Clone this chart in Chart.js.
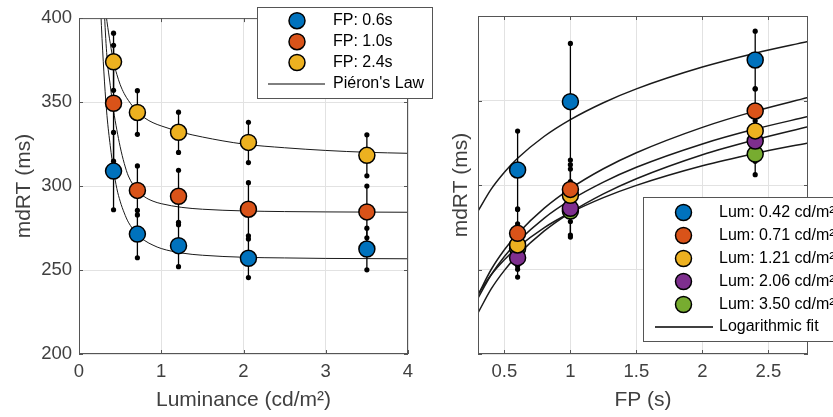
<!DOCTYPE html>
<html>

<head>
    <meta charset="utf-8">
    <title>mdRT vs luminance and FP</title>
    <style>
        body { margin: 0; background: #fff; }
        #left { position: absolute; left: 0; top: 0; }
        #right { position: absolute; left: 420px; top: 0; }
    </style>
</head>

<body>
    <canvas id="left" width="440" height="417"></canvas>
    <canvas id="right" width="413" height="417"></canvas>

    <script src="https://cdn.jsdelivr.net/npm/chart.js@4/dist/chart.umd.min.js"></script>
    <script type="text/javascript">
        // luminance levels (cd/m2) and foreperiods (s)
        var luminance = [0.42, 0.71, 1.21, 2.06, 3.50];
        var fpValues = [0.6, 1.0, 2.4];

        // median RT (ms), one value per luminance level
        var rtFP06 = [308.9, 271.4, 264.5, 257.0, 262.5];
        var rtFP10 = [349.3, 297.4, 293.9, 286.2, 284.6];
        var rtFP24 = [374.0, 343.8, 332.0, 326.0, 318.3];

        // error bar half length (ms)
        var errFP06 = [23.0, 14.1, 12.5, 11.5, 12.4];
        var errFP10 = [34.5, 14.6, 15.5, 15.8, 15.4];
        var errFP24 = [17.0, 13.0, 12.0, 12.0, 12.2];

        // Pieron's law curves
        var pieronX = [0.25, 0.28, 0.31, 0.34, 0.38, 0.42, 0.46, 0.5, 0.55, 0.6, 0.7, 0.8, 0.9, 1.0, 1.25, 1.5, 2.0, 2.5, 3.0, 3.5, 4.0];
        var pieronFP06 = [420, 388, 362, 342, 324, 309.5, 298.5, 291, 284, 278.5, 271.8, 267.5, 264.8, 262.8, 260.1, 258.8, 257.6, 257.2, 256.9, 256.8, 256.7];
        var pieronFP10 = [500, 440, 402, 377, 360, 345, 333.5, 323.5, 313.5, 306, 298, 293.5, 291, 289.5, 287.3, 286.2, 285.2, 284.8, 284.6, 284.5, 284.4];
        var pieronFP24 = [450, 426, 410, 398, 385, 374, 366.5, 360.5, 355, 351, 344.8, 340.5, 337.7, 335.8, 332, 329.2, 325, 322.8, 321.2, 320.1, 319.5];

        // logarithmic fits
        var logX = [0.3, 0.4, 0.5, 0.6, 0.8, 1.0, 1.25, 1.5, 2.0, 2.4, 2.8];
        var logLum042 = [284.6, 297.6, 307.6, 315.8, 328.7, 338.7, 348.7, 356.9, 369.8, 378.0, 384.9];
        var logLum071 = [234.9, 250.0, 261.7, 271.2, 286.2, 297.9, 309.6, 319.1, 334.1, 343.7, 351.8];
        var logLum121 = [233.1, 246.9, 257.7, 266.4, 280.3, 291.0, 301.7, 310.5, 324.3, 333.1, 340.5];
        var logLum206 = [224.3, 238.5, 249.5, 258.5, 272.7, 283.7, 294.7, 303.7, 317.9, 326.8, 334.5];
        var logLum350 = [235.3, 246.9, 255.8, 263.1, 274.7, 283.6, 292.5, 299.8, 311.4, 318.7, 324.9];

        var lumTicks = [0, 1, 2, 3, 4];
        var fpTicks = [0.5, 1, 1.5, 2, 2.5];
        var rtTicks = [200, 250, 300, 350, 400];

        var colors = ['#0072BD', '#D95319', '#EDB120', '#7E2F8E', '#77AC30'];
        var fontFamily = "'Liberation Sans', Arial, sans-serif";

        var rtByFP = [rtFP06, rtFP10, rtFP24];
        var errByFP = [errFP06, errFP10, errFP24];
        var pieronFits = [pieronFP06, pieronFP10, pieronFP24];
        var logFits = [logLum042, logLum071, logLum121, logLum206, logLum350];

        function xy(xs, ys) {
            return xs.map(function (x, i) { return { x: x, y: ys[i] }; });
        }

        function markerSet(label, color, xs, ys, rank) {
            return {
                label: label, legendRank: rank, data: xy(xs, ys), showLine: false,
                backgroundColor: color, borderColor: '#000', borderWidth: 1.5,
                pointRadius: 8, order: 1 + rank
            };
        }

        function errorSet(xs, ys, es) {
            var pts = [];
            xs.forEach(function (x, i) {
                pts.push({ x: x, y: ys[i] - es[i] }, { x: x, y: ys[i] + es[i] }, { x: x, y: null });
            });
            return {
                data: pts, showLine: true, spanGaps: false, borderColor: '#000', borderWidth: 1.3,
                pointRadius: 2.6, pointBackgroundColor: '#000', pointBorderWidth: 0, order: 50
            };
        }

        function fitSet(xs, ys, width) {
            return {
                data: xy(xs, ys), showLine: true, borderColor: '#1a1a1a', borderWidth: width,
                pointRadius: 0, cubicInterpolationMode: 'monotone', order: 100
            };
        }

        // box round the axes plus small inward ticks
        var framePlugin = {
            id: 'frame',
            afterDatasetsDraw: function (chart) {
                var a = chart.chartArea, ctx = chart.ctx;
                var sx = chart.scales.x, sy = chart.scales.y;
                ctx.save();
                ctx.strokeStyle = '#555';
                ctx.lineWidth = 1;
                ctx.strokeRect(a.left + 0.5, a.top + 0.5, a.right - a.left - 1, a.bottom - a.top - 1);
                ctx.beginPath();
                sx.ticks.forEach(function (t) {
                    var p = Math.round(sx.getPixelForValue(t.value)) + 0.5;
                    ctx.moveTo(p, a.bottom); ctx.lineTo(p, a.bottom - 4);
                    ctx.moveTo(p, a.top); ctx.lineTo(p, a.top + 4);
                });
                sy.ticks.forEach(function (t) {
                    var p = Math.round(sy.getPixelForValue(t.value)) + 0.5;
                    ctx.moveTo(a.left, p); ctx.lineTo(a.left + 4, p);
                    ctx.moveTo(a.right, p); ctx.lineTo(a.right - 4, p);
                });
                ctx.stroke();
                ctx.restore();
            }
        };

        // MATLAB style legend box
        var boxLegend = {
            id: 'boxLegend',
            afterDraw: function (chart, args, o) {
                var ctx = chart.ctx;
                ctx.save();
                ctx.fillStyle = '#fff';
                ctx.strokeStyle = '#555';
                ctx.lineWidth = 1;
                ctx.fillRect(o.left, o.top, o.width, o.height);
                ctx.strokeRect(o.left + 0.5, o.top + 0.5, o.width, o.height);
                ctx.font = '16px ' + fontFamily;
                ctx.textBaseline = 'middle';
                var items = chart.data.datasets.filter(function (d) { return d.label; })
                    .sort(function (p, q) { return p.legendRank - q.legendRank; });
                items.forEach(function (d, i) {
                    var y = o.rows[i];
                    ctx.beginPath();
                    ctx.arc(o.markerX, y, 8, 0, Math.PI * 2);
                    ctx.fillStyle = d.backgroundColor;
                    ctx.fill();
                    ctx.lineWidth = 1.5;
                    ctx.strokeStyle = '#000';
                    ctx.stroke();
                    ctx.fillStyle = '#000';
                    ctx.fillText(d.label, o.textX, y);
                });
                ctx.beginPath();
                ctx.moveTo(o.lineX1, o.lineY);
                ctx.lineTo(o.lineX2, o.lineY);
                ctx.lineWidth = o.lineWidth;
                ctx.strokeStyle = '#000';
                ctx.stroke();
                ctx.fillStyle = '#000';
                ctx.fillText(o.lineLabel, o.textX, o.lineY);
                ctx.restore();
            }
        };

        function axes(xMin, xMax, xTicks, xTitle, showY, yTitlePad, yWidth) {
            return {
                x: {
                    type: 'linear', min: xMin, max: xMax,
                    afterBuildTicks: function (s) { s.ticks = xTicks.map(function (v) { return { value: v }; }); },
                    afterFit: function (s) { s.height = 63; },
                    border: { display: false },
                    grid: { color: '#e2e2e2', drawTicks: false },
                    ticks: {
                        font: { family: fontFamily, size: 18.5 }, color: '#404040', padding: 7, maxRotation: 0,
                        callback: function (v) { return String(v); }
                    },
                    title: { display: true, text: xTitle, color: '#404040', font: { family: fontFamily, size: 21 }, padding: { top: 0, bottom: 4 } }
                },
                y: {
                    type: 'linear', min: 200, max: 400,
                    afterBuildTicks: function (s) { s.ticks = rtTicks.map(function (v) { return { value: v }; }); },
                    afterFit: function (s) { s.width = yWidth; },
                    border: { display: false },
                    grid: { color: '#e2e2e2', drawTicks: false },
                    ticks: { display: showY, font: { family: fontFamily, size: 18.5 }, color: '#404040', padding: 7 },
                    title: { display: true, text: 'mdRT (ms)', color: '#404040', font: { family: fontFamily, size: 21 }, padding: { top: yTitlePad, bottom: 0 } }
                }
            };
        }

        // left panel: RT against luminance, one series per FP
        var leftSets = [];
        fpValues.forEach(function (fp, k) {
            leftSets.push(fitSet(pieronX, pieronFits[k], 1));
            leftSets.push(errorSet(luminance, rtByFP[k], errByFP[k]));
            leftSets.push(markerSet('FP: ' + fp.toFixed(1) + 's', colors[k], luminance, rtByFP[k], k));
        });

        new Chart(document.getElementById('left'), {
            type: 'scatter',
            data: { datasets: leftSets },
            options: {
                responsive: false, animation: false, events: [],
                layout: { padding: { left: 0, top: 16, right: 32, bottom: 0 } },
                scales: axes(0, 4, lumTicks, 'Luminance (cd/m²)', true, 12, 79),
                plugins: {
                    legend: { display: false }, tooltip: { enabled: false },
                    boxLegend: {
                        left: 257, top: 7, width: 175, height: 91, markerX: 297,
                        rows: [20.7, 41.7, 62.5], lineY: 84, lineX1: 268, lineX2: 325,
                        textX: 333, lineLabel: "Piéron's Law", lineWidth: 1
                    }
                }
            },
            plugins: [framePlugin, boxLegend]
        });

        // right panel: RT against FP, one series per luminance
        var rightSets = [];
        luminance.forEach(function (lum, j) {
            var ys = rtByFP.map(function (r) { return r[j]; });
            var es = errByFP.map(function (e) { return e[j]; });
            rightSets.push(fitSet(logX, logFits[j], 1.5));
            rightSets.push(errorSet(fpValues, ys, es));
            rightSets.push(markerSet('Lum: ' + lum.toFixed(2) + ' cd/m²', colors[j], fpValues, ys, j));
        });

        new Chart(document.getElementById('right'), {
            type: 'scatter',
            data: { datasets: rightSets },
            options: {
                responsive: false, animation: false, events: [],
                layout: { padding: { left: 0, top: 16, right: 25, bottom: 0 } },
                scales: axes(0.3, 2.8, fpTicks, 'FP (s)', false, 29, 58),
                plugins: {
                    legend: { display: false }, tooltip: { enabled: false },
                    boxLegend: {
                        left: 223, top: 197, width: 230, height: 144, markerX: 263.5,
                        rows: [212.5, 235.5, 258.5, 281.5, 304.5], lineY: 327, lineX1: 235, lineX2: 293,
                        textX: 299, lineLabel: 'Logarithmic fit', lineWidth: 1.5
                    }
                }
            },
            plugins: [framePlugin, boxLegend]
        });
    </script>
</body>

</html>
